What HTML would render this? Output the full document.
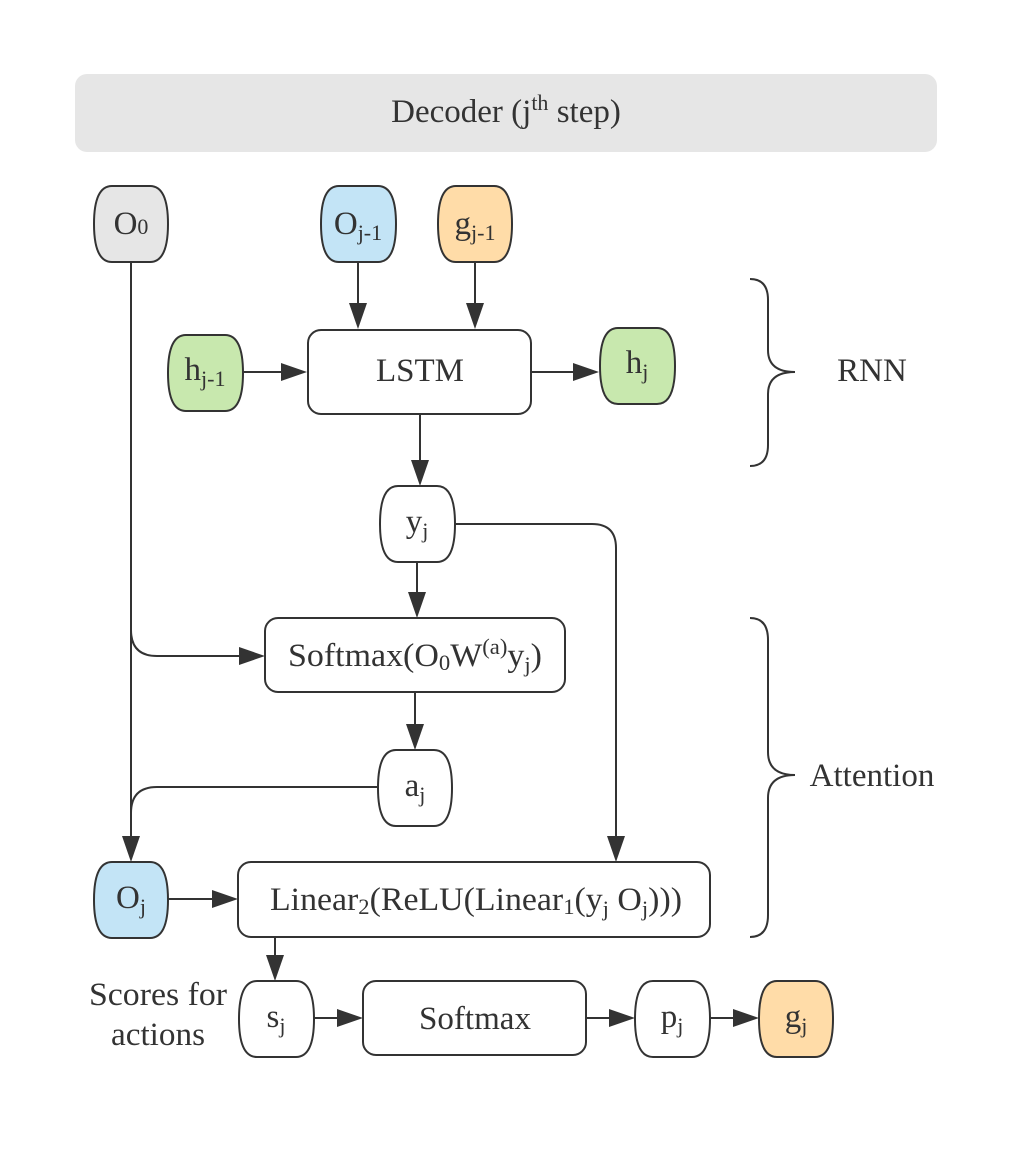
<!DOCTYPE html>
<html><head><meta charset="utf-8"><style>
html,body{margin:0;padding:0;background:#fff}
svg{display:block}
text{font-family:"Liberation Serif",serif;fill:#333;font-size:33px}
.s{font-size:22px}
</style></head><body>
<svg width="1013" height="1149" viewBox="0 0 1013 1149" xmlns="http://www.w3.org/2000/svg">
<rect x="75" y="74" width="862" height="78" rx="12" fill="#e6e6e6"/>
<text x="506" y="122" text-anchor="middle">Decoder (j<tspan class="s" dy="-12">th</tspan><tspan dy="12"> step)</tspan></text>

<g fill="none" stroke="#333" stroke-width="2">
<path d="M131 262 V840"/>
<path d="M131 630 Q131 656 157 656 H240"/>
<path d="M378 787 H157 Q131 787 131 813"/>
<path d="M358 262 V305"/>
<path d="M475 262 V305"/>
<path d="M243 372 H283"/>
<path d="M531 372 H575"/>
<path d="M420 414 V462"/>
<path d="M417 562 V594"/>
<path d="M455 524 H592 Q616 524 616 548 V838"/>
<path d="M415 692 V726"/>
<path d="M168 899 H214"/>
<path d="M275 937 V958"/>
<path d="M314 1018 H339"/>
<path d="M586 1018 H611"/>
<path d="M710 1018 H735"/>
<path d="M750 279 Q768 279 768 300 V350 Q768 372 795 372 Q768 372 768 394 V445 Q768 466 750 466"/>
<path d="M750 618 Q768 618 768 640 V752 Q768 775 795 775 Q768 775 768 798 V915 Q768 937 750 937"/>
</g>
<g fill="#333">
<polygon points="131,862 122,836 140,836"/>
<polygon points="265,656 239,647 239,665"/>
<polygon points="358,329 349,303 367,303"/>
<polygon points="475,329 466,303 484,303"/>
<polygon points="307,372 281,363 281,381"/>
<polygon points="599,372 573,363 573,381"/>
<polygon points="420,486 411,460 429,460"/>
<polygon points="417,618 408,592 426,592"/>
<polygon points="616,862 607,836 625,836"/>
<polygon points="415,750 406,724 424,724"/>
<polygon points="238,899 212,890 212,908"/>
<polygon points="275,981 266,955 284,955"/>
<polygon points="363,1018 337,1009 337,1027"/>
<polygon points="635,1018 609,1009 609,1027"/>
<polygon points="759,1018 733,1009 733,1027"/>
</g>

<g stroke="#333" stroke-width="2">
<rect x="308" y="330" width="223" height="84" rx="13" fill="#fff"/>
<rect x="265" y="618" width="300" height="74" rx="13" fill="#fff"/>
<rect x="238" y="862" width="472" height="75" rx="13" fill="#fff"/>
<rect x="363" y="981" width="223" height="74" rx="13" fill="#fff"/>
<path fill="#e6e6e6" d="M112 186 H150 C166 186 168 209 168 224 C168 239 166 262 150 262 H112 C96 262 94 239 94 224 C94 209 96 186 112 186 Z"/>
<path fill="#c3e4f6" d="M339 186 H378 C394 186 396 209 396 224 C396 239 394 262 378 262 H339 C323 262 321 239 321 224 C321 209 323 186 339 186 Z"/>
<path fill="#ffdca8" d="M456 186 H494 C510 186 512 209 512 224 C512 239 510 262 494 262 H456 C440 262 438 239 438 224 C438 209 440 186 456 186 Z"/>
<path fill="#c8e8ae" d="M186 335 H225 C241 335 243 358 243 373 C243 388 241 411 225 411 H186 C170 411 168 388 168 373 C168 358 170 335 186 335 Z"/>
<path fill="#c8e8ae" d="M618 328 H657 C673 328 675 351 675 366 C675 381 673 404 657 404 H618 C602 404 600 381 600 366 C600 351 602 328 618 328 Z"/>
<path fill="#fff" d="M398 486 H437 C453 486 455 509 455 524 C455 539 453 562 437 562 H398 C382 562 380 539 380 524 C380 509 382 486 398 486 Z"/>
<path fill="#fff" d="M396 750 H434 C450 750 452 773 452 788 C452 803 450 826 434 826 H396 C380 826 378 803 378 788 C378 773 380 750 396 750 Z"/>
<path fill="#c3e4f6" d="M112 862 H150 C166 862 168 885 168 900 C168 915 166 938 150 938 H112 C96 938 94 915 94 900 C94 885 96 862 112 862 Z"/>
<path fill="#fff" d="M257 981 H296 C312 981 314 1004 314 1019 C314 1034 312 1057 296 1057 H257 C241 1057 239 1034 239 1019 C239 1004 241 981 257 981 Z"/>
<path fill="#fff" d="M653 981 H692 C708 981 710 1004 710 1019 C710 1034 708 1057 692 1057 H653 C637 1057 635 1034 635 1019 C635 1004 637 981 653 981 Z"/>
<path fill="#ffdca8" d="M777 981 H815 C831 981 833 1004 833 1019 C833 1034 831 1057 815 1057 H777 C761 1057 759 1034 759 1019 C759 1004 761 981 777 981 Z"/>
</g>

<text x="131" y="234" text-anchor="middle">O<tspan class="s">0</tspan></text>
<text x="358" y="234" text-anchor="middle">O<tspan class="s" dy="6">j-1</tspan></text>
<text x="475" y="234" text-anchor="middle">g<tspan class="s" dy="6">j-1</tspan></text>
<text x="205" y="380" text-anchor="middle">h<tspan class="s" dy="6">j-1</tspan></text>
<text x="637" y="373" text-anchor="middle">h<tspan class="s" dy="6">j</tspan></text>
<text x="420" y="381" text-anchor="middle">LSTM</text>
<text x="417" y="532" text-anchor="middle">y<tspan class="s" dy="6">j</tspan></text>
<text x="415" y="666" text-anchor="middle" textLength="254" lengthAdjust="spacingAndGlyphs">Softmax(O<tspan class="s" dy="4">0</tspan><tspan dy="-4">W</tspan><tspan class="s" dy="-12">(a)</tspan><tspan dy="12">y</tspan><tspan class="s" dy="6">j</tspan><tspan dy="-6">)</tspan></text>
<text x="415" y="796" text-anchor="middle">a<tspan class="s" dy="6">j</tspan></text>
<text x="131" y="908" text-anchor="middle">O<tspan class="s" dy="6">j</tspan></text>
<text x="476" y="910" text-anchor="middle" textLength="412" lengthAdjust="spacingAndGlyphs">Linear<tspan class="s" dy="4">2</tspan><tspan dy="-4">(ReLU(Linear</tspan><tspan class="s" dy="4">1</tspan><tspan dy="-4">(y</tspan><tspan class="s" dy="6">j</tspan><tspan dy="-6"> O</tspan><tspan class="s" dy="6">j</tspan><tspan dy="-6">)))</tspan></text>
<text x="276" y="1027" text-anchor="middle">s<tspan class="s" dy="6">j</tspan></text>
<text x="475" y="1029" text-anchor="middle" textLength="112" lengthAdjust="spacingAndGlyphs">Softmax</text>
<text x="672" y="1027" text-anchor="middle">p<tspan class="s" dy="6">j</tspan></text>
<text x="796" y="1027" text-anchor="middle">g<tspan class="s" dy="6">j</tspan></text>
<text x="158" y="1005" text-anchor="middle" textLength="138" lengthAdjust="spacingAndGlyphs">Scores for</text>
<text x="158" y="1045" text-anchor="middle" textLength="94" lengthAdjust="spacingAndGlyphs">actions</text>
<text x="872" y="381" text-anchor="middle">RNN</text>
<text x="872" y="786" text-anchor="middle">Attention</text>
</svg>
</body></html>
